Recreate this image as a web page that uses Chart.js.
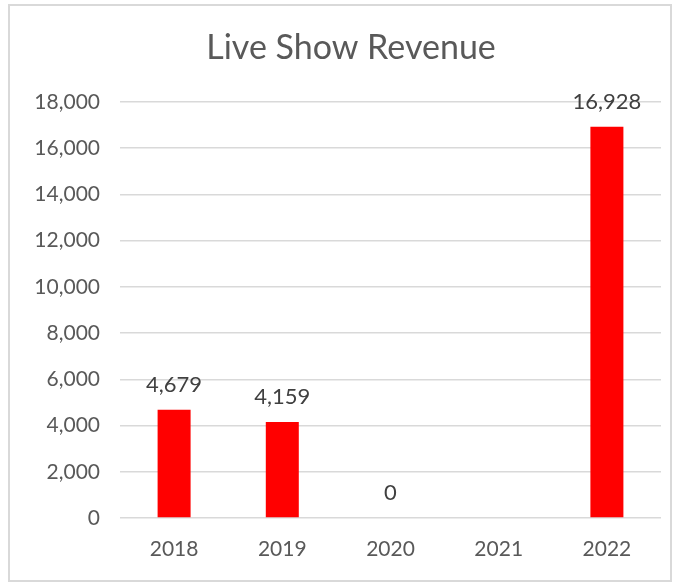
<!DOCTYPE html>
<html><head><meta charset="utf-8">
<script src="https://cdn.jsdelivr.net/npm/chart.js@4"></script>
<style>
html,body{margin:0;padding:0;background:#fff;}
#wrap{position:absolute;left:0;top:0;width:677px;height:582px;}
#frame{position:absolute;left:8px;top:4px;width:660px;height:574px;border:2px solid #d9d9d9;pointer-events:none;}
</style></head>
<body>
<div id="wrap"><canvas id="c" width="677" height="582"></canvas><div id="frame"></div></div>
<script>
const categories = ["2018","2019","2020","2021","2022"];
const revenue = [4679, 4159, 0, null, 16928];
const yTicks = [0,2000,4000,6000,8000,10000,12000,14000,16000,18000];
const chartTitle = 'Live Show Revenue';

const fmt = v => v.toLocaleString('en-US');

const labelPlugin = {
  id:'barLabels',
  afterDatasetsDraw(chart){
    const ctx = chart.ctx;
    const meta = chart.getDatasetMeta(0);
    ctx.save();
    ctx.font = '22px Lato';
    ctx.fillStyle = '#404040';
    ctx.textAlign = 'center';
    ctx.textBaseline = 'middle';
    meta.data.forEach((el,i)=>{
      const v = revenue[i];
      if(v===null||v===undefined) return;
      ctx.fillText(fmt(v), el.x, el.y - 25);
    });
    ctx.restore();
  }
};

const titlePlugin = {
  id:'excelTitle',
  afterDraw(chart){
    const ctx = chart.ctx;
    ctx.save();
    ctx.font = '34px Lato';
    ctx.fillStyle = '#595959';
    ctx.textAlign = 'center';
    ctx.textBaseline = 'middle';
    ctx.fillText(chartTitle, 351, 48);
    ctx.restore();
  }
};

new Chart(document.getElementById('c'),{
  type:'bar',
  data:{labels:categories,datasets:[{data:revenue,backgroundColor:'#ff0000',borderWidth:0,barPercentage:0.305,categoryPercentage:1}]},
  options:{
    responsive:false,animation:false,
    layout:{padding:{left:0,right:16,top:102,bottom:20}},
    plugins:{legend:{display:false},tooltip:{enabled:false},title:{display:false}},
    scales:{
      x:{grid:{display:false,drawTicks:false},border:{display:false},
         afterFit(s){s.height = 44;},
         ticks:{color:'#595959',font:{family:'Lato',size:21},padding:19,maxRotation:0}},
      y:{min:0,max:18000,
         afterBuildTicks(s){s.ticks = yTicks.map(v=>({value:v}));},
         afterFit(s){s.width = 120;},
         grid:{color:'#d9d9d9',lineWidth:1.5,drawTicks:false},
         border:{display:false},
         ticks:{color:'#595959',font:{family:'Lato',size:21},padding:20,callback:v=>fmt(v)}}
    }
  },
  plugins:[labelPlugin,titlePlugin]
});
</script>
</body></html>
